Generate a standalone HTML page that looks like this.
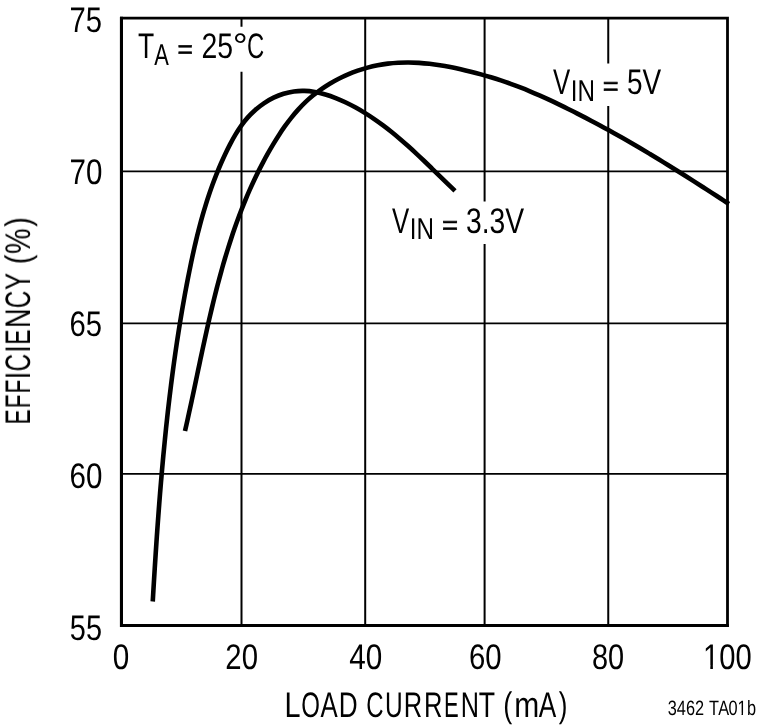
<!DOCTYPE html>
<html><head><meta charset="utf-8"><title>Efficiency vs Load Current</title>
<style>
html,body{margin:0;padding:0;background:#fff;}
body{width:760px;height:728px;overflow:hidden;}
svg{display:block;}
text{font-family:"Liberation Sans",sans-serif;fill:#000;font-kerning:none;text-rendering:geometricPrecision;}
</style></head><body>
<svg width="760" height="728" viewBox="0 0 760 728">
<rect width="760" height="728" fill="#fff"/>
<g fill="none" stroke="#000" stroke-width="2">
<path d="M241.5 18.05V26.8M241.5 71.8V625.5"/>
<path d="M365.2 18.05V625.5"/>
<path d="M484.6 18.05V201.4M484.6 244.0V625.5"/>
<path d="M608.25 18.05V63.4M608.25 106.0V625.5"/>
</g>
<g fill="none" stroke="#000" stroke-width="1.6">
<path d="M121.5 171.4H727.5"/>
<path d="M121.5 323.35H727.5"/>
<path d="M121.5 473.9H727.5"/>
</g>
<g fill="none" stroke="#000" stroke-width="4.6" stroke-linejoin="round">
<path d="M152.74 601.50C152.85 599.70 153.17 594.31 153.38 590.72C153.59 587.12 153.81 583.52 154.03 579.93C154.25 576.33 154.47 572.73 154.70 569.13C154.93 565.53 155.15 561.93 155.39 558.33C155.62 554.73 155.86 551.12 156.10 547.52C156.34 543.92 156.58 540.31 156.83 536.71C157.08 533.10 157.33 529.50 157.59 525.89C157.85 522.29 158.11 518.68 158.38 515.07C158.65 511.47 158.92 507.86 159.20 504.26C159.48 500.65 159.76 497.04 160.05 493.44C160.34 489.83 160.64 486.23 160.94 482.62C161.25 479.01 161.56 475.41 161.87 471.80C162.19 468.20 162.51 464.59 162.84 460.99C163.17 457.39 163.51 453.78 163.86 450.18C164.20 446.58 164.55 442.98 164.92 439.37C165.28 435.77 165.64 432.17 166.02 428.57C166.40 424.98 166.78 421.38 167.18 417.78C167.57 414.19 167.98 410.59 168.39 407.00C168.80 403.40 169.22 399.81 169.66 396.22C170.09 392.63 170.53 389.04 170.98 385.45C171.43 381.87 171.89 378.28 172.36 374.70C172.83 371.11 173.31 367.53 173.81 363.95C174.30 360.37 174.80 356.79 175.32 353.22C175.83 349.64 176.36 346.07 176.89 342.50C177.43 338.93 177.98 335.36 178.54 331.80C179.10 328.23 179.67 324.67 180.26 321.11C180.85 317.55 181.44 313.99 182.05 310.43C182.66 306.88 183.29 303.33 183.92 299.78C184.56 296.23 185.21 292.69 185.87 289.14C186.53 285.60 187.21 282.06 187.90 278.53C188.59 274.99 189.30 271.46 190.02 267.93C190.74 264.40 191.47 260.88 192.23 257.36C192.99 253.84 193.77 250.32 194.57 246.82C195.38 243.31 196.20 239.81 197.06 236.31C197.92 232.82 198.80 229.33 199.72 225.85C200.64 222.37 201.59 218.89 202.58 215.43C203.57 211.96 204.59 208.51 205.66 205.06C206.72 201.62 207.83 198.18 208.98 194.76C210.13 191.33 211.32 187.91 212.56 184.51C213.81 181.11 215.10 177.72 216.44 174.34C217.79 170.96 219.18 167.59 220.63 164.24C222.09 160.88 223.60 157.53 225.16 154.22C226.73 150.91 228.35 147.61 230.03 144.38C231.72 141.16 233.43 137.96 235.28 134.86C237.12 131.77 239.03 128.73 241.12 125.82C243.20 122.90 245.40 120.07 247.81 117.39C250.22 114.72 252.82 112.13 255.55 109.75C258.29 107.37 261.21 105.12 264.22 103.11C267.23 101.10 270.40 99.25 273.63 97.69C276.85 96.12 280.20 94.76 283.57 93.72C286.95 92.67 290.41 91.89 293.87 91.42C297.33 90.96 300.83 90.82 304.33 90.92C307.83 91.02 311.36 91.42 314.86 92.01C318.37 92.60 321.88 93.46 325.36 94.47C328.84 95.47 332.31 96.70 335.73 98.04C339.15 99.37 342.55 100.89 345.88 102.48C349.21 104.07 352.49 105.79 355.70 107.56C358.92 109.33 362.06 111.18 365.16 113.10C368.25 115.01 371.28 117.00 374.27 119.05C377.26 121.09 380.19 123.20 383.08 125.36C385.98 127.51 388.82 129.73 391.63 131.98C394.45 134.24 397.21 136.55 399.96 138.88C402.70 141.22 405.40 143.60 408.09 146.01C410.77 148.41 413.43 150.85 416.07 153.31C418.71 155.77 421.33 158.26 423.94 160.75C426.55 163.24 429.14 165.76 431.73 168.28C434.31 170.80 436.89 173.33 439.47 175.85C442.06 178.37 444.63 180.91 447.22 183.42C449.81 185.94 453.71 189.69 455.00 190.95"/>
<path d="M184.99 431.00C185.37 429.31 186.52 424.27 187.27 420.90C188.02 417.53 188.76 414.15 189.50 410.77C190.24 407.39 190.97 404.00 191.70 400.61C192.42 397.22 193.14 393.83 193.87 390.43C194.59 387.04 195.30 383.64 196.02 380.24C196.74 376.84 197.45 373.44 198.17 370.04C198.89 366.64 199.61 363.23 200.33 359.83C201.05 356.43 201.78 353.02 202.51 349.62C203.24 346.21 203.98 342.81 204.72 339.41C205.47 336.01 206.22 332.61 206.98 329.21C207.74 325.82 208.51 322.42 209.29 319.03C210.07 315.64 210.86 312.25 211.67 308.87C212.47 305.48 213.29 302.10 214.12 298.72C214.95 295.35 215.80 291.98 216.66 288.61C217.53 285.25 218.41 281.89 219.31 278.54C220.21 275.18 221.13 271.84 222.07 268.50C223.01 265.16 223.97 261.83 224.95 258.50C225.94 255.18 226.94 251.86 227.97 248.56C229.00 245.25 230.05 241.96 231.14 238.67C232.22 235.38 233.32 232.10 234.46 228.84C235.60 225.57 236.76 222.31 237.96 219.07C239.15 215.83 240.38 212.59 241.63 209.37C242.89 206.15 244.18 202.94 245.51 199.75C246.83 196.55 248.19 193.37 249.58 190.20C250.98 187.04 252.41 183.88 253.88 180.74C255.34 177.60 256.85 174.48 258.40 171.37C259.94 168.26 261.53 165.17 263.16 162.10C264.79 159.02 266.46 155.96 268.17 152.92C269.89 149.88 271.64 146.85 273.45 143.85C275.25 140.84 277.10 137.85 279.01 134.91C280.92 131.97 282.88 129.05 284.91 126.21C286.95 123.36 289.03 120.55 291.21 117.83C293.38 115.11 295.61 112.44 297.94 109.88C300.27 107.31 302.67 104.82 305.17 102.44C307.66 100.06 310.25 97.77 312.91 95.59C315.57 93.40 318.31 91.32 321.11 89.34C323.92 87.36 326.80 85.47 329.74 83.70C332.68 81.93 335.69 80.26 338.75 78.70C341.81 77.14 344.93 75.68 348.09 74.34C351.25 72.99 354.46 71.76 357.71 70.64C360.96 69.51 364.26 68.50 367.58 67.61C370.90 66.72 374.27 65.93 377.65 65.27C381.03 64.61 384.44 64.06 387.86 63.64C391.29 63.21 394.74 62.91 398.19 62.72C401.64 62.52 405.12 62.46 408.59 62.48C412.06 62.50 415.55 62.64 419.03 62.86C422.51 63.08 426.00 63.40 429.49 63.79C432.97 64.18 436.45 64.66 439.93 65.21C443.40 65.75 446.87 66.37 450.33 67.03C453.78 67.70 457.23 68.44 460.65 69.21C464.08 69.98 467.49 70.81 470.88 71.67C474.27 72.52 477.64 73.42 480.99 74.35C484.34 75.28 487.67 76.25 490.98 77.26C494.29 78.27 497.58 79.32 500.86 80.41C504.13 81.50 507.39 82.62 510.64 83.79C513.88 84.96 517.11 86.17 520.32 87.43C523.54 88.68 526.74 89.98 529.92 91.31C533.11 92.64 536.28 94.01 539.45 95.41C542.61 96.81 545.76 98.24 548.90 99.70C552.05 101.15 555.18 102.64 558.30 104.14C561.42 105.63 564.54 107.16 567.65 108.69C570.75 110.23 573.85 111.79 576.94 113.36C580.03 114.93 583.11 116.52 586.19 118.12C589.26 119.73 592.33 121.35 595.39 122.98C598.45 124.62 601.50 126.27 604.55 127.93C607.60 129.60 610.63 131.28 613.67 132.97C616.70 134.66 619.72 136.37 622.74 138.09C625.76 139.81 628.77 141.54 631.77 143.28C634.78 145.03 637.77 146.78 640.77 148.55C643.76 150.31 646.74 152.09 649.72 153.88C652.70 155.67 655.68 157.46 658.65 159.27C661.61 161.08 664.58 162.89 667.53 164.72C670.49 166.54 673.44 168.38 676.39 170.22C679.33 172.06 682.27 173.91 685.21 175.76C688.15 177.62 691.08 179.48 694.00 181.35C696.93 183.21 699.85 185.09 702.77 186.97C705.68 188.85 708.60 190.73 711.50 192.62C714.41 194.51 717.31 196.40 720.21 198.30C723.11 200.19 727.45 203.05 728.90 204.00"/>
</g>
<path d="M121.45 16.75V625.5H728.85" fill="none" stroke="#000" stroke-width="3.1" stroke-linejoin="miter"/>
<path d="M120.0 18.150000000000002H727.5V627.0" fill="none" stroke="#000" stroke-width="2.8" stroke-linejoin="miter"/>
<g opacity="0.999">
<text transform="translate(69.50,31.60) scale(0.8214,1)" font-size="35.6">75</text>
<text transform="translate(69.48,183.60) scale(0.8301,1)" font-size="35.6">70</text>
<text transform="translate(69.52,335.60) scale(0.8210,1)" font-size="35.6">65</text>
<text transform="translate(69.50,487.65) scale(0.8297,1)" font-size="35.6">60</text>
<text transform="translate(69.84,639.85) scale(0.8125,1)" font-size="35.6">55</text>
<text transform="translate(112.64,669.00) scale(0.8344,1)" font-size="35.6">0</text>
<text transform="translate(225.33,669.00) scale(0.8238,1)" font-size="35.6">20</text>
<text transform="translate(349.32,669.00) scale(0.8344,1)" font-size="35.6">40</text>
<text transform="translate(469.01,669.00) scale(0.8242,1)" font-size="35.6">60</text>
<text transform="translate(591.94,669.00) scale(0.8129,1)" font-size="35.6">80</text>
<text transform="translate(702.98,669.00) scale(0.8192,1)" font-size="35.6">100</text>
<text transform="translate(0,716.80)" font-size="35.6"><tspan x="284.44" textLength="16.02" lengthAdjust="spacingAndGlyphs">L</tspan><tspan x="301.26" textLength="18.69" lengthAdjust="spacingAndGlyphs">O</tspan><tspan x="320.45" textLength="17.20" lengthAdjust="spacingAndGlyphs">A</tspan><tspan x="338.65" textLength="18.90" lengthAdjust="spacingAndGlyphs">D</tspan> <tspan x="366.18" textLength="17.33" lengthAdjust="spacingAndGlyphs">C</tspan><tspan x="384.91" textLength="17.68" lengthAdjust="spacingAndGlyphs">U</tspan><tspan x="403.81" textLength="18.43" lengthAdjust="spacingAndGlyphs">R</tspan><tspan x="423.96" textLength="18.43" lengthAdjust="spacingAndGlyphs">R</tspan><tspan x="444.11" textLength="14.72" lengthAdjust="spacingAndGlyphs">E</tspan><tspan x="460.83" textLength="18.23" lengthAdjust="spacingAndGlyphs">N</tspan><tspan x="478.70" textLength="16.31" lengthAdjust="spacingAndGlyphs">T</tspan> <tspan x="503.32" textLength="9.04" lengthAdjust="spacingAndGlyphs">(</tspan><tspan x="514.21" textLength="24.97" lengthAdjust="spacingAndGlyphs">m</tspan><tspan x="538.85" textLength="17.50" lengthAdjust="spacingAndGlyphs">A</tspan><tspan x="558.75" textLength="8.67" lengthAdjust="spacingAndGlyphs">)</tspan></text>
<text transform="translate(0,715.30) scale(0.7851,1)" font-size="20.8" x="850.58 862.15 873.76 885.10 896.67 903.23 914.71 928.02 939.27 951.35">3462 TA01b</text>
<text transform="translate(30.00,422.70) rotate(-90)" font-size="35.6"><tspan x="-1.86" textLength="15.14" lengthAdjust="spacingAndGlyphs">E</tspan><tspan x="14.55" textLength="13.75" lengthAdjust="spacingAndGlyphs">F</tspan><tspan x="29.34" textLength="13.87" lengthAdjust="spacingAndGlyphs">F</tspan><tspan x="43.53" textLength="7.45" lengthAdjust="spacingAndGlyphs">I</tspan><tspan x="51.37" textLength="17.56" lengthAdjust="spacingAndGlyphs">C</tspan><tspan x="69.93" textLength="7.45" lengthAdjust="spacingAndGlyphs">I</tspan><tspan x="77.92" textLength="15.26" lengthAdjust="spacingAndGlyphs">E</tspan><tspan x="94.78" textLength="19.52" lengthAdjust="spacingAndGlyphs">N</tspan><tspan x="114.57" textLength="17.45" lengthAdjust="spacingAndGlyphs">C</tspan><tspan x="132.74" textLength="17.02" lengthAdjust="spacingAndGlyphs">Y</tspan> <tspan x="158.52" textLength="9.55" lengthAdjust="spacingAndGlyphs">(</tspan><tspan x="168.78" textLength="25.55" lengthAdjust="spacingAndGlyphs">%</tspan><tspan x="196.03" textLength="9.55" lengthAdjust="spacingAndGlyphs">)</tspan></text>
<text transform="translate(138.00,57.70) scale(0.7452,1)" font-size="35.6">T</text>
<text transform="translate(154.36,64.60) scale(0.7289,1)" font-size="30.0">A</text>
<text transform="translate(177.61,58.16) scale(0.7401,0.7219)" font-size="35.6" stroke="#000" stroke-width="0.831">=</text>
<text transform="translate(201.57,57.70) scale(0.7986,1)" font-size="35.6">25</text>
<text transform="translate(232.77,57.90) scale(1.0523,1)" font-size="35.6">°</text>
<text transform="translate(246.99,57.70) scale(0.6698,1)" font-size="35.6">C</text>
<text transform="translate(552.89,93.60) scale(0.7255,1)" font-size="35.6">V</text>
<text transform="translate(570.77,101.00) scale(0.8069,1)" font-size="30.0">IN</text>
<text transform="translate(602.87,94.95) scale(0.7632,0.7387)" font-size="35.6" stroke="#000" stroke-width="0.812">=</text>
<text transform="translate(626.88,93.60) scale(0.7864,1)" font-size="35.6">5V</text>
<text transform="translate(391.89,232.60) scale(0.7255,1)" font-size="35.6">V</text>
<text transform="translate(409.77,239.40) scale(0.8069,1)" font-size="30.0">IN</text>
<text transform="translate(441.95,233.65) scale(0.7748,0.7387)" font-size="35.6" stroke="#000" stroke-width="0.812">=</text>
<text transform="translate(465.92,232.60) scale(0.7947,1)" font-size="35.6">3.3V</text>
</g>
<g fill="#fff">
<rect x="704.00" y="665.44" width="6.31" height="5.06"/>
<rect x="712.89" y="665.44" width="6.08" height="5.06"/>
<rect x="737.48" y="712.85" width="4.06" height="3.95"/>
<rect x="742.99" y="712.85" width="3.94" height="3.95"/>
</g>
</svg>
</body></html>
